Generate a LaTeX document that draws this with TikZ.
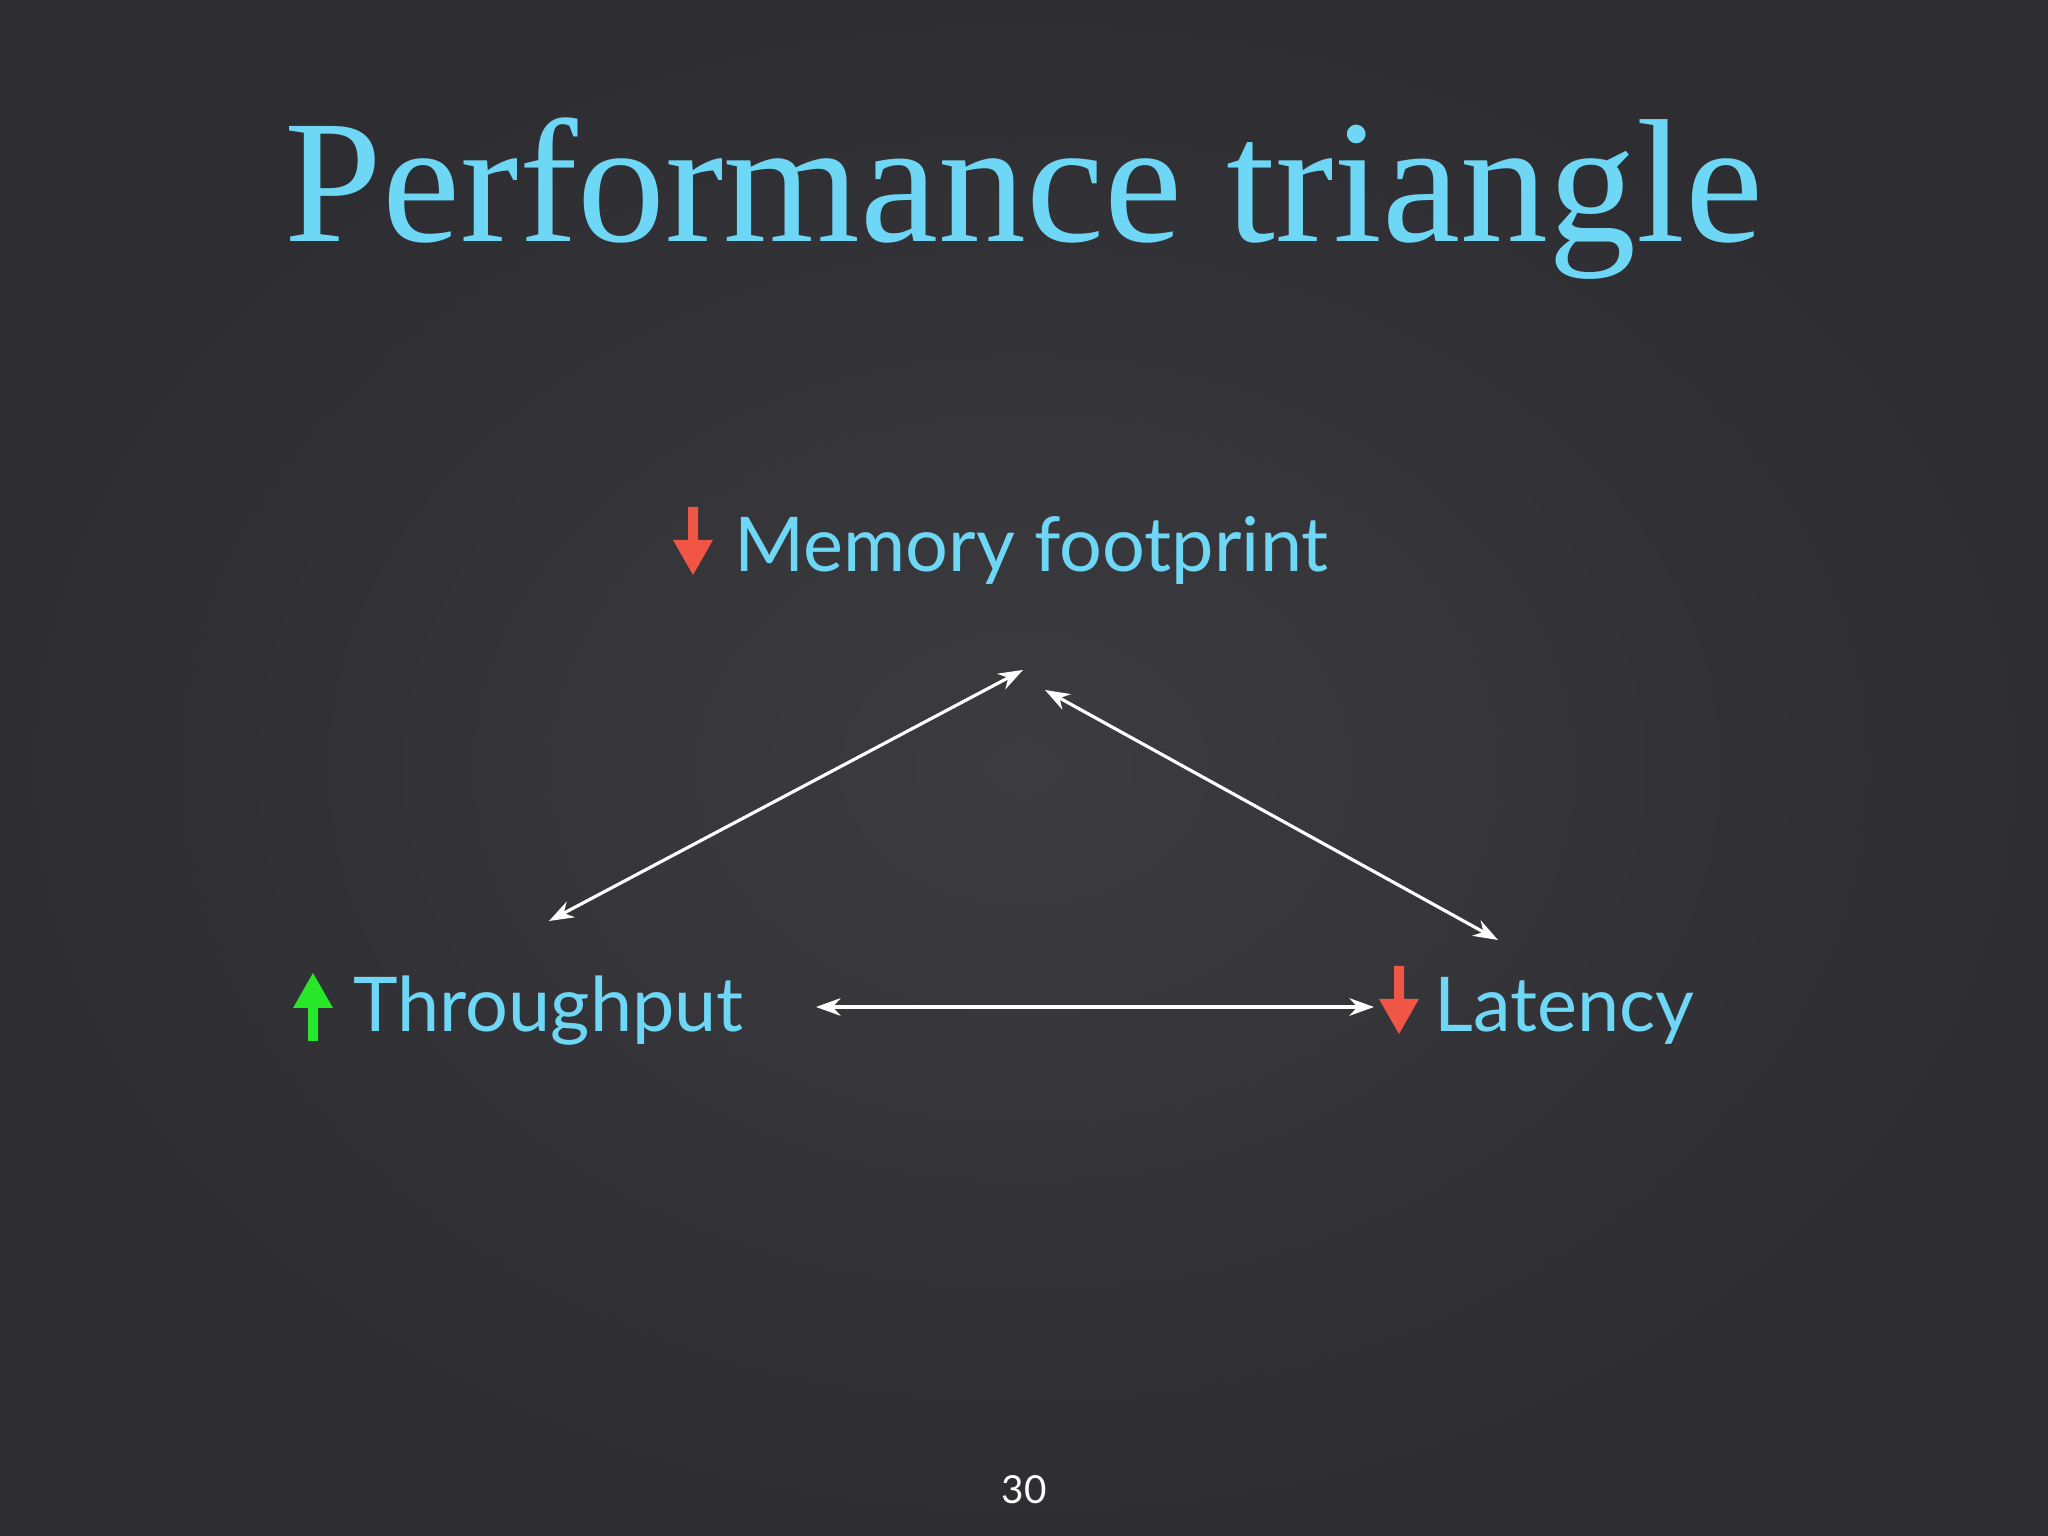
\documentclass[tikz,border=0pt]{standalone}
\usepackage{fontspec}
\setmainfont{Liberation Serif}
\newfontfamily\labelfont{Lato}
\usetikzlibrary{arrows.meta}
\definecolor{bgc}{RGB}{46,46,50}
\definecolor{bgl}{RGB}{60,60,64}
\definecolor{cyantext}{RGB}{110,215,245}
\definecolor{redarrow}{RGB}{240,85,70}
\definecolor{greenarrow}{RGB}{40,230,40}
\tikzset{
  lbl/.style={anchor=base west,inner sep=0pt,text=cyantext,font=\labelfont\fontsize{21.5}{25}\selectfont},
  conn/.style={draw=white,line width=0.9pt,{Stealth[length=7pt,width=5pt]}-{Stealth[length=7pt,width=5pt]}},
}
\newcommand{\dnarrow}[3]{\fill[#3] (#1-0.05,#2) -- (#1+0.05,#2) -- (#1+0.05,#2-0.33) -- (#1+0.2,#2-0.33) -- (#1,#2-0.68) -- (#1-0.2,#2-0.33) -- (#1-0.05,#2-0.33) -- cycle;}
\newcommand{\uparrowshape}[3]{\fill[#3] (#1-0.05,#2) -- (#1+0.05,#2) -- (#1+0.05,#2+0.33) -- (#1+0.2,#2+0.33) -- (#1,#2+0.68) -- (#1-0.2,#2+0.33) -- (#1-0.05,#2+0.33) -- cycle;}
\begin{document}
\begin{tikzpicture}
\useasboundingbox (0,0) rectangle (20.48,15.36);
\fill[bgc] (0,0) rectangle (20.48,15.36);
\shade[inner color=bgl,outer color=bgc] (0,0) rectangle (20.48,15.36);
\node[anchor=base,inner sep=0pt,text=cyantext,font=\fontsize{50}{56}\selectfont] (title) at (10.24,12.94) {Performance triangle};
\node[lbl] (mem) at (7.34,9.64) {Memory footprint};
\node[lbl] (thr) at (3.53,5.04) {Throughput};
\node[lbl] (lat) at (14.34,5.04) {Latency};
\dnarrow{6.93}{10.29}{redarrow}
\uparrowshape{3.13}{4.95}{greenarrow}
\dnarrow{13.99}{5.70}{redarrow}
\coordinate (a1) at (10.23,8.66);
\coordinate (a2) at (5.49,6.15);
\coordinate (b1) at (10.45,8.46);
\coordinate (b2) at (14.98,5.96);
\coordinate (c1) at (8.16,5.29);
\coordinate (c2) at (13.74,5.29);
\draw[conn] (a2) -- (a1);
\draw[conn] (b1) -- (b2);
\draw[conn] (c1) -- (c2);
\node[anchor=base,inner sep=0pt,text=white,font=\labelfont\fontsize{11}{13}\selectfont] (pg) at (10.24,0.32) {30};
\end{tikzpicture}
\end{document}
